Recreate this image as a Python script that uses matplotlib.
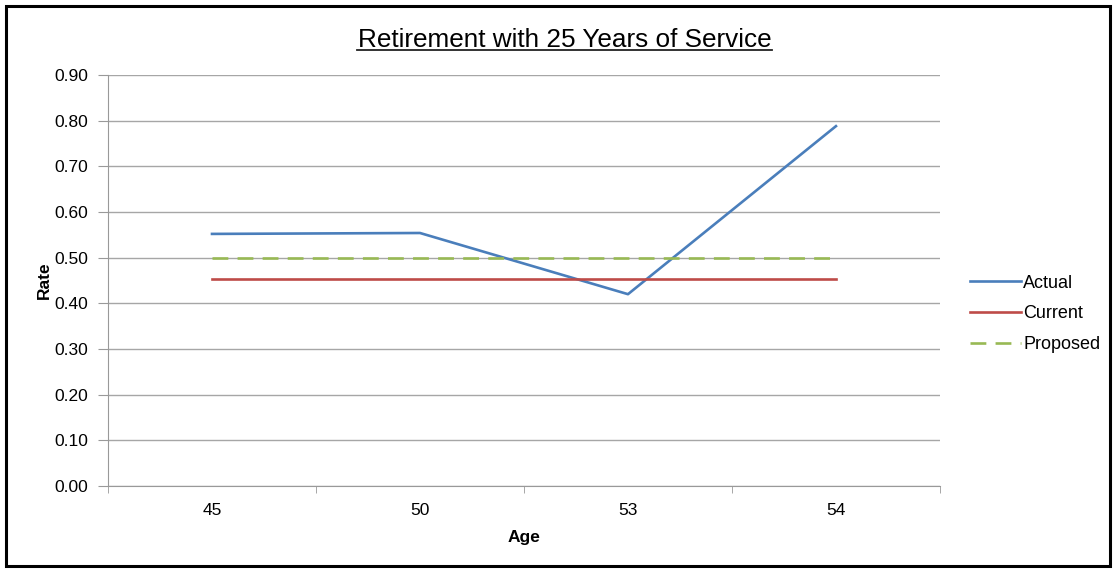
import matplotlib.pyplot as plt
from matplotlib.patches import Rectangle

plt.rcParams['font.family'] = ['Liberation Sans', 'DejaVu Sans']

# Retirement rates by age, 25 years of service
ages = ['45', '50', '53', '54']
actual = [0.552, 0.554, 0.420, 0.788]
current = [0.453, 0.453, 0.453, 0.453]
proposed = [0.50, 0.50, 0.50, 0.50]
y_ticks = [0.0, 0.1, 0.2, 0.3, 0.4, 0.5, 0.6, 0.7, 0.8, 0.9]

fig = plt.figure(figsize=(11.17, 5.69), dpi=100)
ax = fig.add_axes([0.0967, 0.1459, 0.7448, 0.7223])

x = list(range(len(ages)))
ax.plot(x, actual, color='#4a7ebb', lw=1.9, label='Actual', zorder=3)
ax.plot(x, current, color='#be4b48', lw=1.9, label='Current', zorder=3)
ax.plot(x, proposed, color='#98b954', lw=1.9, dashes=(6, 3.5), label='Proposed', zorder=3)

ax.set_xlim(-0.5, len(ages) - 0.5)
ax.set_ylim(0, 0.9)
ax.set_yticks(y_ticks)
ax.set_yticklabels([f'{v:.2f}' for v in y_ticks], fontsize=12.5)
ax.set_xticks(x)
ax.set_xticklabels(ages, fontsize=12.5)
ax.tick_params(axis='x', which='major', length=0, pad=12)
ax.set_xticks([i - 0.5 for i in range(len(ages) + 1)], minor=True)
ax.tick_params(axis='x', which='minor', length=5, color='#999999', direction='out')
ax.tick_params(axis='y', length=7, color='#999999', direction='out', pad=7)

ax.grid(axis='y', color='#a6a6a6', lw=1)
ax.set_axisbelow(True)
for side in ['top', 'right']:
    ax.spines[side].set_visible(False)
for side in ['left', 'bottom']:
    ax.spines[side].set_color('#999999')

ax.set_xlabel('Age', fontsize=12.5, fontweight='bold', labelpad=9)
ax.set_ylabel('Rate', fontsize=12.5, fontweight='bold', labelpad=2)

fig.text(0.5057, 0.9174, 'Retirement with 25 Years of Service', ha='center', va='baseline',
         fontsize=18.8)
# underline under the title
fig.add_artist(plt.Line2D([0.3196, 0.6915], [0.9120, 0.9120], color='#222222', lw=1.3))

ax.legend(loc='center left', bbox_to_anchor=(1.0166, 0.4185), frameon=False, fontsize=13,
          handlelength=2.8, handletextpad=0.15, labelspacing=0.76)

fig.add_artist(Rectangle((0.005, 0.006), 0.989, 0.984, transform=fig.transFigure,
                         fill=False, edgecolor='black', lw=2.2))

fig.savefig('out.png', dpi=100)
